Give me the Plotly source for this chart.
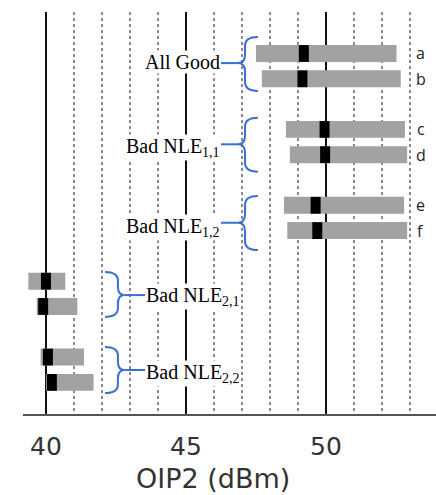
import plotly.graph_objects as go

# ---------------- data ----------------
labels = ['a', 'b', 'c', 'd', 'e', 'f', 'g', 'h', 'i', 'j']
group_names = ['All Good', 'Bad NLE<sub>1,1</sub>', 'Bad NLE<sub>1,2</sub>',
               'Bad NLE<sub>2,1</sub>', 'Bad NLE<sub>2,2</sub>']
group_members = [['a', 'b'], ['c', 'd'], ['e', 'f'], ['g', 'h'], ['i', 'j']]
low = [47.50, 47.71, 48.57, 48.71, 48.50, 48.62, 39.37, 39.67, 39.81, 40.00]
high = [52.52, 52.67, 52.82, 52.90, 52.79, 52.90, 40.69, 41.12, 41.36, 41.70]
median = [49.21, 49.16, 49.95, 49.97, 49.63, 49.69, 40.00, 39.90, 40.07, 40.21]
major_ticks = [40, 45, 50]
x_title = 'OIP2 (dBm)'

# ---------------- style (brace geometry per group, in row units) ----------------
brace_top_off = [-0.65, -0.46, -0.37, -0.36, -0.40]
brace_bot_off = [0.48, 0.67, 0.77, 0.41, 0.42]
brace_tip_off = [0.38, 0.59, 0.69, 0.55, 0.51]
label_yshift = [1, -3, -5, -1, -4]

# row slots: one empty slot between groups
pos = {}
slot = 0
for gi, mem in enumerate(group_members):
    for m in mem:
        pos[m] = slot
        slot += 1
    slot += 1
ypos = [pos[l] for l in labels]

fig = go.Figure()
fig.add_trace(go.Bar(
    orientation='h', y=ypos, base=low,
    x=[h - l for h, l in zip(high, low)],
    width=0.67, marker=dict(color='#a2a2a2', line=dict(width=0)),
    hoverinfo='skip', showlegend=False))
fig.add_trace(go.Scatter(
    x=median, y=ypos, mode='markers',
    marker=dict(symbol='line-ns', size=12, color='black',
                line=dict(color='black', width=10)),
    hoverinfo='skip', showlegend=False))

annotations = []
shapes = []
BLUE = '#3a6fd2'
for gi, mem in enumerate(group_members):
    ps = [pos[m] for m in mem]
    top = min(ps) + brace_top_off[gi]
    bot = max(ps) + brace_bot_off[gi]
    mid = min(ps) + brace_tip_off[gi]
    r = 0.35
    idx = [labels.index(m) for m in mem]
    right_side = max(high[i] for i in idx) > 45
    if right_side:
        xe, xv, xt, xtext = 47.57, 47.11, 46.86, 46.25
        anchor = 'right'
    else:
        xe, xv, xt, xtext = 42.11, 42.57, 42.80, 43.54
        anchor = 'left'
    path = (f'M {xe},{top} Q {xv},{top} {xv},{top + r} L {xv},{mid - r} '
            f'Q {xv},{mid} {xt},{mid} Q {xv},{mid} {xv},{mid + r} '
            f'L {xv},{bot - r} Q {xv},{bot} {xe},{bot}')
    shapes.append(dict(type='path', path=path, xref='x', yref='y',
                       line=dict(color=BLUE, width=2), layer='above'))
    shapes.append(dict(type='line', x0=xt, x1=xtext, y0=mid, y1=mid,
                       xref='x', yref='y', line=dict(color=BLUE, width=2),
                       layer='above'))
    annotations.append(dict(
        x=xtext, y=mid, xref='x', yref='y', text=group_names[gi],
        xanchor=anchor, yanchor='middle', showarrow=False,
        yshift=label_yshift[gi],
        font=dict(family='Liberation Serif', size=20, color='black'),
        bgcolor='white', borderpad=0))

for i, l in enumerate(labels):
    x = 53.39 if high[i] > 45 else 38.89
    annotations.append(dict(
        x=x, y=ypos[i], xref='x', yref='y', text=l, showarrow=False,
        xanchor='center', yanchor='middle',
        font=dict(family='Open Sans', size=16, color='#222')))

# axis title as annotation (centred like the reference), kept inside the page
annotations.append(dict(
    x=0.461, y=(495 - 81 - 495) / (495 - 81 - 12), xref='paper', yref='paper',
    text=x_title, showarrow=False, xanchor='center', yanchor='bottom',
    borderpad=0,
    font=dict(family='DejaVu Sans', size=27, color='#333')))

fig.update_layout(
    width=436, height=495,
    margin=dict(l=23, r=0, t=12, b=81),
    paper_bgcolor='white', plot_bgcolor='white',
    barmode='overlay',
    annotations=annotations, shapes=shapes,
    xaxis=dict(
        range=[39.18, 53.93], tickvals=major_ticks,
        showgrid=True, gridcolor='#111', gridwidth=2,
        minor=dict(dtick=1, tick0=40, showgrid=True, griddash='dot',
                   gridcolor='#8a8a8a', gridwidth=1.5),
        showline=True, linecolor='#555', linewidth=2,
        ticks='', zeroline=False,
        tickfont=dict(family='DejaVu Sans', size=25, color='#333'),
        ticklabelstandoff=9,
    ),
    yaxis=dict(range=[14.25, -1.64], visible=False, showgrid=False,
               zeroline=False),
)

fig.write_html('out.html', config={'displayModeBar': False},
               post_script="document.body.style.margin='0';")
